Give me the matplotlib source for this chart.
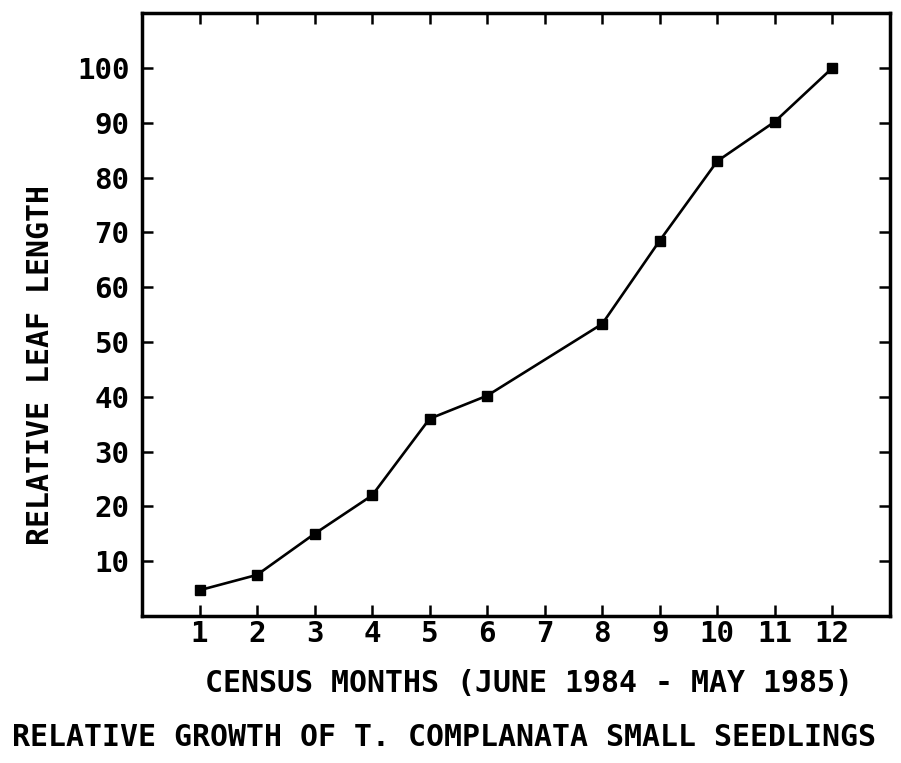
import matplotlib
matplotlib.use("Agg")
import matplotlib.pyplot as plt

# census month number and relative leaf length (month 7 not censused)
months = [1, 2, 3, 4, 5, 6, 8, 9, 10, 11, 12]
leaf_length = [4.7, 7.5, 15, 22, 36, 40.2, 53.3, 68.5, 83, 90.2, 100]

x_ticks = list(range(1, 13))
y_ticks = list(range(10, 101, 10))

plt.rcParams['font.family'] = 'DejaVu Sans Mono'
plt.rcParams['font.weight'] = 'bold'

fig = plt.figure(figsize=(9.01, 7.63), dpi=100)
ax = fig.add_axes([0.1576, 0.1927, 0.83, 0.79])

ax.plot(months, leaf_length, color='black', linewidth=1.9,
        marker='s', markersize=7, markerfacecolor='black', markeredgecolor='black')

ax.set_xlim(0, 13)
ax.set_ylim(0, 110)
ax.set_xticks(x_ticks)
ax.set_yticks(y_ticks)
ax.tick_params(axis='both', direction='in', length=8, width=1.8,
               top=True, right=True, labelsize=21)
ax.tick_params(axis='x', pad=3)
ax.tick_params(axis='y', pad=9)
for sp in ax.spines.values():
    sp.set_linewidth(2.5)

fig.text(0.587, 1 - 683 / 763, 'CENSUS MONTHS (JUNE 1984 - MAY 1985)',
         ha='center', va='center', fontsize=21.5, fontweight='bold')
fig.text(0.045, 1 - 365 / 763, 'RELATIVE LEAF LENGTH', rotation=90,
         ha='center', va='center', fontsize=21.5, fontweight='bold')
fig.text(0.493, 1 - 738 / 763, 'RELATIVE GROWTH OF T. COMPLANATA SMALL SEEDLINGS',
         ha='center', va='center', fontsize=21.5, fontweight='bold')

fig.savefig('out.png', dpi=100)
